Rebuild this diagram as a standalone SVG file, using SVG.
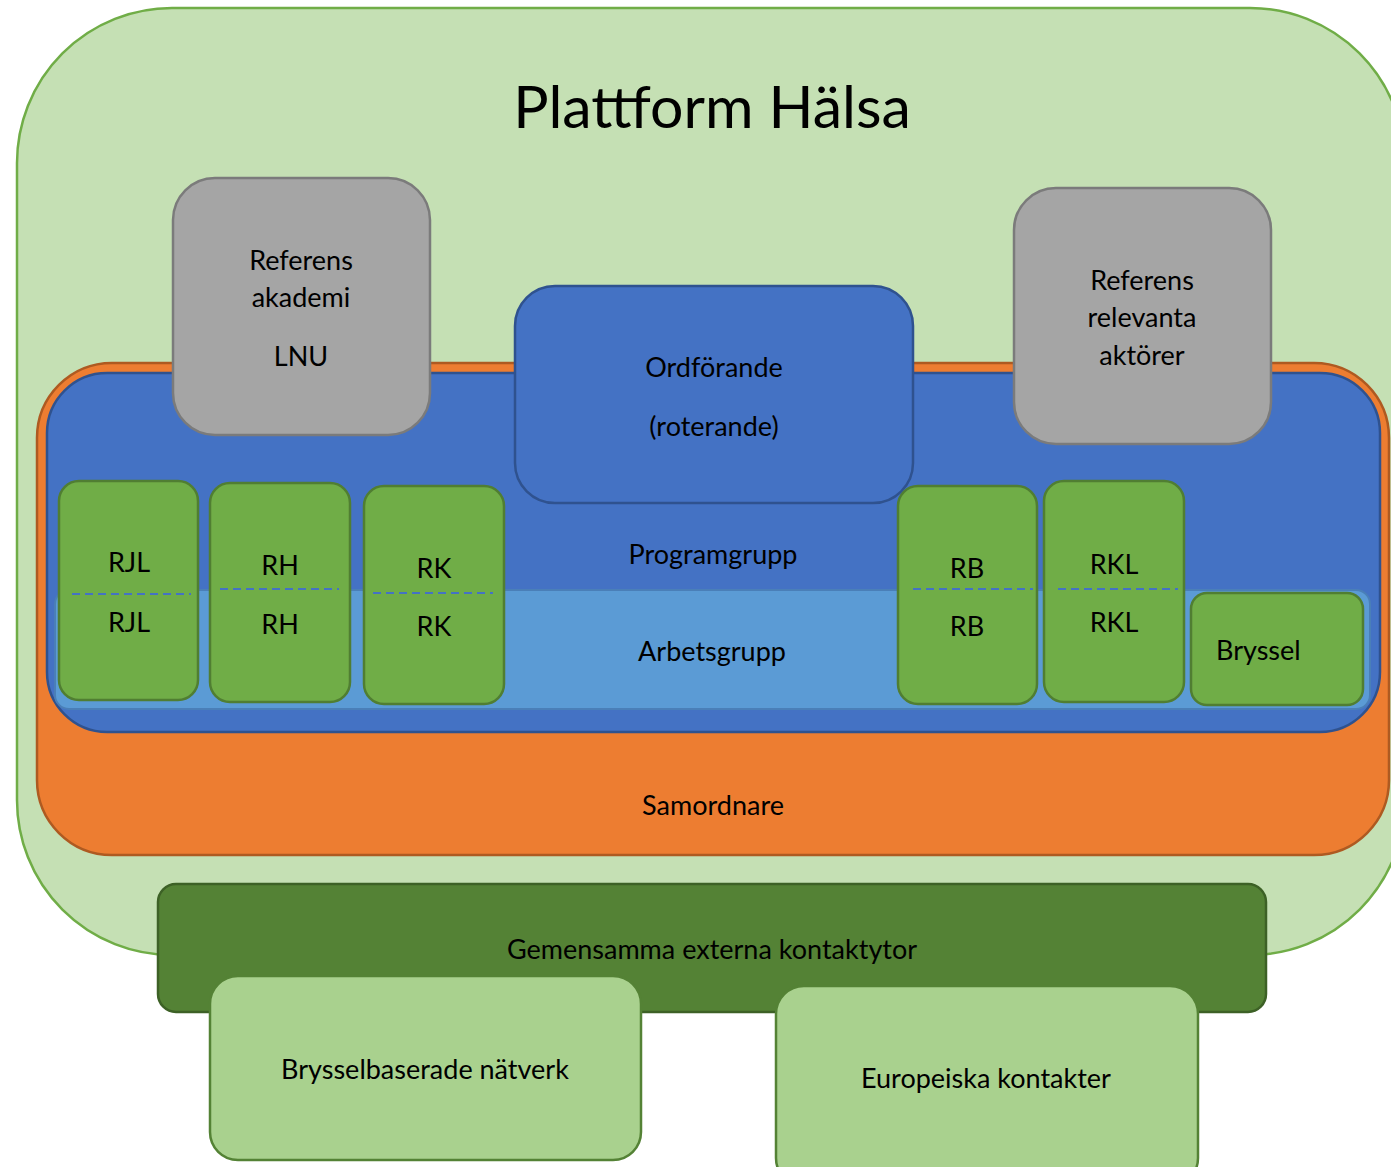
<svg xmlns="http://www.w3.org/2000/svg" width="1391" height="1167" viewBox="0 0 1391 1167">
<style>
text{font-family:Lato,"Open Sans","Liberation Sans",sans-serif;font-size:27px;fill:#000;text-anchor:middle;dominant-baseline:central}
.grey{fill:#A5A5A5;stroke:#7B7B7B;stroke-width:2.5}
.blue{fill:#4472C4;stroke:#2F528F;stroke-width:2.5}
.g{fill:#70AD47;stroke:#507E32;stroke-width:2.5}
.lg{fill:#A9D18E;stroke:#548235;stroke-width:2.5}
.dash{stroke:#4472C4;stroke-width:2;stroke-dasharray:8 5;fill:none}
</style>
<rect width="1391" height="1167" fill="#fff"/>
<g id="plattform">
<rect x="17" y="8" width="1388" height="947" rx="155" ry="155" fill="#C5E0B4" stroke="#70AD47" stroke-width="2.5"/>
<text x="712" y="105" style="font-size:59px">Plattform Hälsa</text>
</g>
<g id="samordnare">
<rect x="37" y="363" width="1352" height="492" rx="75" fill="#ED7D31" stroke="#AE5A21" stroke-width="2.5"/>
<text x="713" y="804">Samordnare</text>
</g>
<g id="programgrupp">
<rect x="47" y="373" width="1333" height="359" rx="60" class="blue"/>
<text x="713" y="553">Programgrupp</text>
</g>
<g id="arbetsgrupp">
<rect x="55" y="590" width="1315" height="119" rx="14" fill="#5B9BD5" stroke="#4A7FB8" stroke-width="2"/>
<text x="712" y="650">Arbetsgrupp</text>
</g>
<g id="ref-akademi">
<rect x="173" y="178" width="257" height="257" rx="42" class="grey"/>
<text x="301" y="259">Referens</text>
<text x="301" y="296">akademi</text>
<text x="301" y="355">LNU</text>
</g>
<g id="ref-aktorer">
<rect x="1014" y="188" width="257" height="256" rx="42" class="grey"/>
<text x="1142" y="279">Referens</text>
<text x="1142" y="316">relevanta</text>
<text x="1142" y="354">aktörer</text>
</g>
<g id="ordforande">
<rect x="515" y="286" width="398" height="217" rx="40" class="blue"/>
<text x="714" y="366">Ordförande</text>
<text x="714" y="425">(roterande)</text>
</g>
<g id="rjl">
<rect x="59" y="481" width="139" height="219" rx="20" class="g"/>
<line x1="72" y1="594" x2="191" y2="594" class="dash"/>
<text x="129" y="561">RJL</text>
<text x="129" y="621">RJL</text>
</g>
<g id="rh">
<rect x="210" y="483" width="140" height="219" rx="20" class="g"/>
<line x1="220" y1="589" x2="339" y2="589" class="dash"/>
<text x="280" y="564">RH</text>
<text x="280" y="623">RH</text>
</g>
<g id="rk">
<rect x="364" y="486" width="140" height="218" rx="20" class="g"/>
<line x1="373" y1="593" x2="493" y2="593" class="dash"/>
<text x="434" y="567">RK</text>
<text x="434" y="625">RK</text>
</g>
<g id="rb">
<rect x="898" y="486" width="139" height="218" rx="20" class="g"/>
<line x1="913" y1="589" x2="1033" y2="589" class="dash"/>
<text x="967" y="567">RB</text>
<text x="967" y="625">RB</text>
</g>
<g id="rkl">
<rect x="1044" y="481" width="140" height="221" rx="20" class="g"/>
<line x1="1058" y1="589" x2="1178" y2="589" class="dash"/>
<text x="1114" y="563">RKL</text>
<text x="1114" y="621">RKL</text>
</g>
<g id="bryssel">
<rect x="1191" y="593" width="172" height="112" rx="16" class="g"/>
<text x="1216" y="649" style="text-anchor:start">Bryssel</text>
</g>
<g id="gemensamma">
<rect x="158" y="884" width="1108" height="128" rx="18" fill="#548235" stroke="#3D6126" stroke-width="2.5"/>
<text x="712" y="948">Gemensamma externa kontaktytor</text>
</g>
<g id="brysselbaserade">
<rect x="210" y="976" width="431" height="184" rx="28" class="lg"/>
<text x="425" y="1068">Brysselbaserade nätverk</text>
</g>
<g id="europeiska">
<rect x="776" y="986" width="422" height="200" rx="28" class="lg"/>
<text x="986" y="1077">Europeiska kontakter</text>
</g>
<g id="connectors"></g>
</svg>
